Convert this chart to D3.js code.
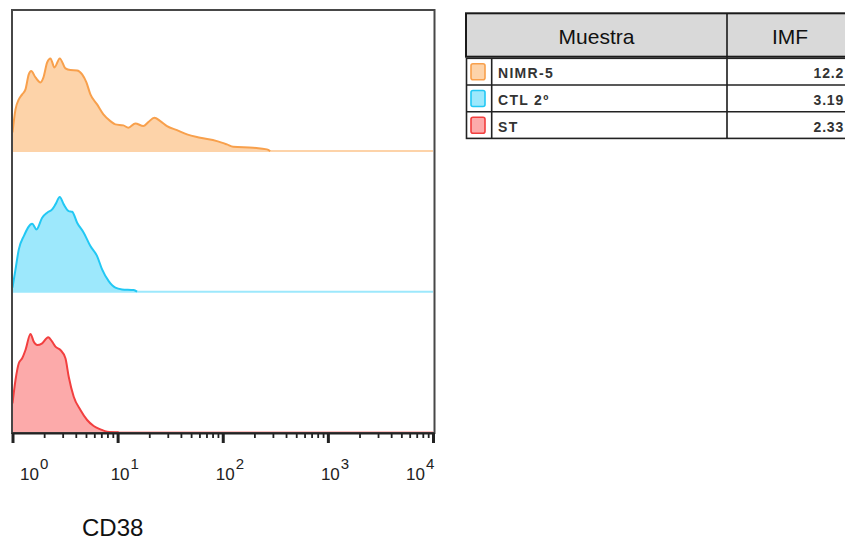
<!DOCTYPE html>
<html>
<head>
<meta charset="utf-8">
<script src="https://cdn.jsdelivr.net/npm/d3@7"></script>
<style>
  body { margin: 0; background: #fff; }
  svg { display: block; }
</style>
</head>
<body>
<div class="canvas"></div>
<script>
// samples, top panel first
const samples = ['NIMR-5', 'CTL 2º', 'ST'];
const imfValues = ['12.2', '3.19', '2.33'];
const lineColors = ['#f8a04c', '#22c8f4', '#f23f3f'];
const fillColors = ['#fdd3a9', '#9de8fc', '#fcaaaa'];

// CD38 intensity and events (% of panel scale)
const nimrX = [1.00, 1.068, 1.148, 1.236, 1.329, 1.428, 1.506, 1.654, 1.845, 1.970, 2.137, 2.296, 2.506, 2.815,
  3.188, 3.557, 4.119, 4.596, 5.048, 5.510, 6.378, 7.322, 8.533, 9.520, 11.34, 12.65, 14.75, 17.56, 19.60,
  22.35, 25.48, 29.50, 36.71, 45.70, 61.13, 88.09, 109.6, 125.8, 194.9, 263.0, 282.7];
const nimrY = [18.7, 41.7, 51.7, 56.7, 61.7, 76.7, 80, 73.7, 68.7, 73.7, 88.7, 92.7, 83.7, 92.7,
  82.7, 81, 80.7, 76.7, 68.7, 56.7, 46.7, 36.7, 30, 26.7, 25.7, 23.4, 27.7, 25, 29,
  33.4, 30, 25, 21, 16.7, 13.4, 10, 6.7, 4.4, 3.4, 1.7, 0];

const ctlX = [1.00, 1.068, 1.148, 1.281, 1.539, 1.690, 1.915, 2.137, 2.384, 2.562, 2.815, 3.072, 3.426, 3.692,
  4.119, 4.759, 5.510, 6.378, 7.117, 8.222, 9.520, 11.02, 14.21, 15.30];
const ctlY = [4, 22.3, 42.3, 55.6, 68, 62.3, 74, 79, 82.3, 87.3, 94.6, 87.3, 80.6, 80,
  69, 59, 45.6, 35.6, 22.3, 10.6, 4, 2.3, 1.6, 0];

const stX = [1.00, 1.068, 1.148, 1.236, 1.329, 1.483, 1.594, 1.717, 1.915, 2.184, 2.384, 2.562, 2.858, 3.188,
  3.426, 3.823, 4.428, 5.126, 5.921, 6.857, 7.940, 10.23];
const stY = [29, 52.3, 69, 74, 82.3, 98.3, 90.6, 87.3, 89, 95, 90.6, 85.6, 82.3, 74,
  55.6, 35.6, 22.3, 12.3, 6.3, 3, 0.6, 0];

const seriesX = [nimrX, ctlX, stX];
const seriesY = [nimrY, ctlY, stY];

const majorTicks = [1, 10, 100, 1000, 10000];
const tableHeaders = ['Muestra', 'IMF'];

const width = 845, height = 542;
const plot = {left: 12, top: 10, right: 434.5, bottom: 433};
const panelStep = 140.6;

const svg = d3.select('.canvas')
  .append('svg')
    .attr('width', width)
    .attr('height', height);

const x = d3.scaleLog()
  .domain([1, 10000])
  .range([plot.left + 0.5, 433]);

// histograms, one panel each, stacked bottom-up
samples.forEach((name, i) => {
  const base = plot.bottom - 0.7 - (2 - i) * panelStep;
  const y = d3.scaleLinear().domain([0, 100]).range([base, base - 100]);
  const pts = seriesX[i].map((v, j) => ({v: v, c: seriesY[i][j]}));

  const g = svg.append('g').attr('class', 'panel');

  // light baseline running to the end of the scale
  g.append('line')
    .attr('x1', x(1)).attr('x2', x(10000))
    .attr('y1', y(0)).attr('y2', y(0))
    .attr('stroke', fillColors[i])
    .attr('stroke-width', 2);

  const area = d3.area()
    .x(d => x(d.v))
    .y0(y(0))
    .y1(d => y(d.c))
    .curve(d3.curveMonotoneX);

  const line = d3.line()
    .x(d => x(d.v))
    .y(d => y(d.c))
    .curve(d3.curveMonotoneX);

  g.append('path')
    .attr('d', area(pts))
    .attr('fill', fillColors[i]);

  g.append('path')
    .attr('d', line(pts))
    .attr('fill', 'none')
    .attr('stroke', lineColors[i])
    .attr('stroke-width', 2)
    .attr('stroke-linejoin', 'round');
});

// frame
svg.append('rect')
  .attr('x', plot.left).attr('y', plot.top)
  .attr('width', plot.right - plot.left)
  .attr('height', plot.bottom - plot.top)
  .attr('fill', 'none')
  .attr('stroke', '#474747')
  .attr('stroke-width', 2);

// axis: minor ticks then major ticks
const minorTicks = [];
majorTicks.slice(0, -1).forEach(m => {
  for (let k = 2; k < 10; k++) minorTicks.push(m * k);
});

const minorAxis = svg.append('g')
  .attr('transform', `translate(0, ${plot.bottom})`)
  .call(d3.axisBottom(x).tickValues(minorTicks).tickSize(5).tickFormat(''));

const majorAxis = svg.append('g')
  .attr('transform', `translate(0, ${plot.bottom})`)
  .call(d3.axisBottom(x).tickValues(majorTicks).tickSize(10).tickFormat(''));

minorAxis.select('.domain').remove();
majorAxis.select('.domain')
  .attr('stroke', '#222')
  .attr('stroke-width', 2);
minorAxis.selectAll('.tick line').attr('stroke', '#222').attr('stroke-width', 1.8);
majorAxis.selectAll('.tick line').attr('stroke', '#222').attr('stroke-width', 3);

// tick labels 10^k
const labels = svg.append('g')
  .attr('font-family', 'Liberation Sans, Arial, sans-serif')
  .attr('fill', '#222');

majorTicks.forEach((t, k) => {
  const lx = Math.max(20, Math.min(x(t) - 7, 406));
  const txt = labels.append('text')
    .attr('x', lx)
    .attr('y', 480)
    .attr('font-size', 17);
  txt.append('tspan').text('10');
  txt.append('tspan')
    .attr('dx', 1)
    .attr('dy', -11)
    .attr('font-size', 15)
    .text(k);
});

svg.append('text')
  .attr('x', 82)
  .attr('y', 536)
  .attr('font-family', 'Liberation Sans, Arial, sans-serif')
  .attr('font-size', 24)
  .attr('fill', '#111')
  .text('CD38');

// legend table
const table = {left: 466, right: 853, headTop: 13.3, headBottom: 56.7, rowTop: 58.3, rowH: 26.7, swatchCol: 491.7, valCol: 727};
const tg = svg.append('g').attr('class', 'table');
const rowsBottom = table.rowTop + samples.length * table.rowH;

tg.append('rect')
  .attr('x', table.left).attr('y', table.headTop)
  .attr('width', table.right - table.left)
  .attr('height', table.headBottom - table.headTop)
  .attr('fill', '#d9d9d9')
  .attr('stroke', '#1a1a1a')
  .attr('stroke-width', 2);

tg.append('line')
  .attr('x1', table.valCol).attr('x2', table.valCol)
  .attr('y1', table.headTop).attr('y2', rowsBottom)
  .attr('stroke', '#1a1a1a').attr('stroke-width', 1.6);

tg.append('text')
  .attr('x', (table.left + table.valCol) / 2)
  .attr('y', 44)
  .attr('text-anchor', 'middle')
  .attr('font-family', 'Liberation Sans, Arial, sans-serif')
  .attr('font-size', 21)
  .attr('fill', '#111')
  .text(tableHeaders[0]);

tg.append('text')
  .attr('x', 790)
  .attr('y', 44)
  .attr('text-anchor', 'middle')
  .attr('font-family', 'Liberation Sans, Arial, sans-serif')
  .attr('font-size', 21)
  .attr('fill', '#111')
  .text(tableHeaders[1]);

// rows
tg.append('rect')
  .attr('x', table.left + 0.5).attr('y', table.rowTop)
  .attr('width', table.right - table.left)
  .attr('height', rowsBottom - table.rowTop)
  .attr('fill', 'none')
  .attr('stroke', '#222')
  .attr('stroke-width', 1.6);

tg.append('line')
  .attr('x1', table.swatchCol).attr('x2', table.swatchCol)
  .attr('y1', table.rowTop).attr('y2', rowsBottom)
  .attr('stroke', '#222').attr('stroke-width', 1.6);

samples.forEach((name, i) => {
  const top = table.rowTop + i * table.rowH;
  if (i > 0) {
    tg.append('line')
      .attr('x1', table.left).attr('x2', table.right)
      .attr('y1', top).attr('y2', top)
      .attr('stroke', '#222').attr('stroke-width', 1.4);
  }
  tg.append('rect')
    .attr('x', 471).attr('y', top + 5.5)
    .attr('width', 14).attr('height', 16)
    .attr('rx', 2)
    .attr('fill', fillColors[i])
    .attr('stroke', lineColors[i])
    .attr('stroke-width', 1.6);

  tg.append('text')
    .attr('x', 498)
    .attr('y', top + 20)
    .attr('font-family', 'Liberation Sans, Arial, sans-serif')
    .attr('font-size', 14)
    .attr('font-weight', 'bold')
    .attr('letter-spacing', 1.3)
    .attr('fill', '#333')
    .text(name);

  tg.append('text')
    .attr('x', 844)
    .attr('y', top + 20)
    .attr('text-anchor', 'end')
    .attr('font-family', 'Liberation Sans, Arial, sans-serif')
    .attr('font-size', 14)
    .attr('font-weight', 'bold')
    .attr('letter-spacing', 0.8)
    .attr('fill', '#333')
    .text(imfValues[i]);
});
</script>
</body>
</html>
